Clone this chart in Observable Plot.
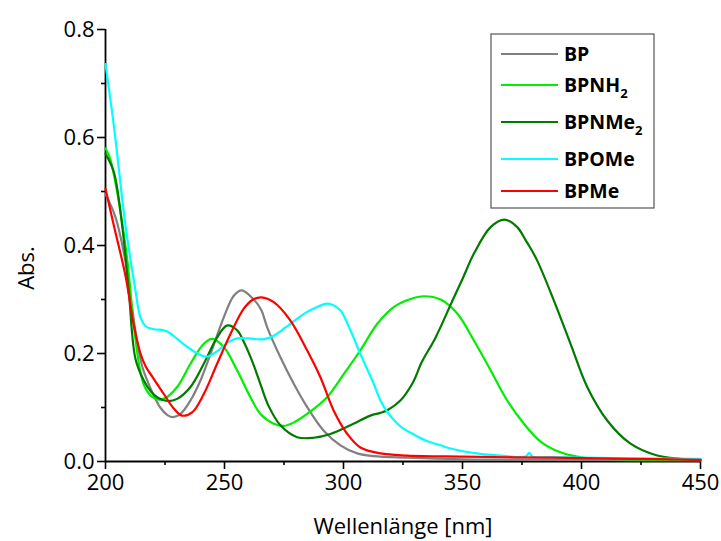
<!DOCTYPE html>
<html><head><meta charset="utf-8">
<script src="https://cdn.jsdelivr.net/npm/d3@7"></script>
<script src="https://cdn.jsdelivr.net/npm/@observablehq/plot@0.6"></script>
<style>
body{margin:0;background:#fff;}
#wrap{position:relative;width:721px;height:541px;}
#legend{position:absolute;left:0;top:0;pointer-events:none;}
</style>
</head><body>
<div id="wrap"></div>
<script>
// Wavelength (nm) / absorbance samples
const bpX = [200,204,208,211,213,215.5,218,220,223,226,228.5,231.5,235.7,239.9,244.1,249.7,253.9,257.2,262.3,265.5,267.9,273.5,279.1,284.7,291.7,298.7,305.8,312.7,326.8,350,400,450];
const bpY = [0.495,0.455,0.38,0.29,0.23,0.175,0.145,0.125,0.100,0.086,0.082,0.088,0.113,0.150,0.199,0.267,0.307,0.317,0.300,0.280,0.249,0.193,0.144,0.101,0.057,0.030,0.015,0.010,0.007,0.004,0.003,0.002];

const nh2X = [200,202,204.9,209.1,211.9,214.7,216.5,219,222,225,230.1,235.7,241.3,244.8,249.7,255.3,260.9,265.1,270.7,274.9,279,284.7,293.1,300.1,307.1,314.2,321.1,328.2,333.7,340.8,347.8,354.8,361.8,368.8,375.8,382.8,391.2,401,420,450];
const nh2Y = [0.580,0.560,0.499,0.375,0.252,0.165,0.138,0.122,0.115,0.117,0.138,0.181,0.218,0.227,0.212,0.169,0.119,0.088,0.070,0.066,0.072,0.088,0.119,0.162,0.206,0.255,0.286,0.301,0.306,0.300,0.274,0.224,0.169,0.113,0.070,0.037,0.017,0.007,0.004,0.003];

const nme2X = [200,203.5,207,209.8,212.6,216.1,219,222,225.9,230.1,235.7,241.3,246.9,251.2,255.3,258.5,262.3,265.5,268.5,273.5,280.5,287.5,294.5,302.9,311.3,315.5,318.4,323.9,329,333,338.5,346,350,354.8,361.8,367.6,373,376.5,377.9,381.4,388.4,395.4,402.4,410.8,420.6,431.8,441.6,450];
const nme2Y = [0.570,0.536,0.437,0.314,0.190,0.150,0.130,0.118,0.112,0.116,0.138,0.181,0.230,0.252,0.243,0.218,0.178,0.138,0.103,0.067,0.045,0.044,0.051,0.067,0.085,0.090,0.095,0.113,0.145,0.185,0.228,0.300,0.338,0.385,0.434,0.448,0.434,0.410,0.400,0.372,0.298,0.218,0.138,0.076,0.033,0.011,0.005,0.003];

const omeX = [200,203.5,208.4,212.3,214.7,217,220.3,224.5,227,230.1,233.5,237.1,240,242.7,245.5,248.3,252,255.3,260,265.1,268,270.7,274,277.7,281,284.7,288.5,292.4,295.5,298.7,302.9,307.1,312.7,315.5,318.4,323.9,329.5,335,340.8,345,357.6,366,376.5,378,379.5,387,400,420,450];
const omeY = [0.736,0.622,0.437,0.325,0.267,0.250,0.245,0.243,0.238,0.227,0.215,0.204,0.197,0.194,0.200,0.209,0.222,0.228,0.228,0.226,0.228,0.233,0.243,0.255,0.266,0.277,0.285,0.292,0.290,0.280,0.243,0.199,0.144,0.113,0.092,0.065,0.050,0.038,0.030,0.024,0.014,0.011,0.009,0.016,0.009,0.008,0.007,0.006,0.005];

const meX = [200,203.5,208.4,212,214.7,217,220,224.5,228.7,232.2,236.4,241.3,246.9,252.5,258.1,262,265.5,270.7,277.7,284.7,290.3,295.9,301.6,307.1,315.5,326.8,350,387,420,450];
const meY = [0.505,0.437,0.344,0.250,0.200,0.175,0.155,0.125,0.098,0.085,0.091,0.125,0.181,0.236,0.283,0.300,0.304,0.295,0.261,0.206,0.156,0.094,0.051,0.026,0.015,0.011,0.009,0.007,0.005,0.003];

const seriesNames = ["BP","BPNH2","BPNMe2","BPOMe","BPMe"];
const seriesColors = ["#808080","#00ee00","#007a00","#00ffff","#ff0000"];
const seriesX = [bpX,nh2X,nme2X,omeX,meX];
const seriesY = [bpY,nh2Y,nme2Y,omeY,meY];

const xMajor = [200,250,300,350,400,450];
const xMinor = [225,275,325,375,425];
const yMajor = [0,0.2,0.4,0.6,0.8];
const yMinor = [0.1,0.3,0.5,0.7];

const data = seriesNames.flatMap((name,i) => seriesX[i].map((x,j) => ({name, x, y: seriesY[i][j]})));

const font = "'Open Sans', sans-serif";
const chart = Plot.plot({
  width: 721, height: 541,
  marginLeft: 105, marginRight: 21, marginTop: 29, marginBottom: 80,
  style: {fontFamily: font, fontSize: "22px", color: "#000", background: "#fff"},
  x: {domain: [200,450]},
  y: {domain: [0,0.8]},
  color: {domain: seriesNames, range: seriesColors},
  marks: [
    Plot.axisX(xMajor, {tickSize: 8, tickPadding: 5, tickFormat: d => String(d), label: null, strokeWidth: 1.6}),
    Plot.axisX(xMinor, {tickSize: 4, tickFormat: () => "", label: null, strokeWidth: 1.6}),
    Plot.axisY(yMajor, {tickSize: 8, tickPadding: 3, tickFormat: d3.format(".1f"), label: null, strokeWidth: 1.6}),
    Plot.axisY(yMinor, {tickSize: 4, tickFormat: () => "", label: null, strokeWidth: 1.6}),
    Plot.ruleY([0], {stroke: "#000", strokeWidth: 1.8}),
    Plot.ruleX([200], {stroke: "#000", strokeWidth: 1.8}),
    Plot.line(data, {x: "x", y: "y", z: "name", stroke: "name", strokeWidth: 2.2, curve: "catmull-rom"})
  ]
});
const wrap = document.getElementById("wrap");
wrap.appendChild(chart);

// Overlay: axis titles and legend
const leg = d3.select(wrap).append("svg").attr("id","legend").attr("width",721).attr("height",541);
leg.append("text").attr("x",403).attr("y",534).attr("text-anchor","middle")
  .attr("font-family",font).attr("font-size",22).attr("fill","#000").text("Wellenlänge [nm]");
leg.append("text").attr("transform","translate(34,268) rotate(-90)").attr("text-anchor","middle")
  .attr("font-family",font).attr("font-size",22).attr("fill","#000").text("Abs.");

leg.append("rect").attr("x",491).attr("y",34).attr("width",163).attr("height",174)
  .attr("fill","#fff").attr("stroke","#555").attr("stroke-width",1.2);
const rowY = [54,85,122,159,191];
const labels = [["BP",""],["BPNH","2"],["BPNMe","2"],["BPOMe",""],["BPMe",""]];
seriesNames.forEach((n,i) => {
  leg.append("line").attr("x1",501).attr("x2",558).attr("y1",rowY[i]).attr("y2",rowY[i])
    .attr("stroke",seriesColors[i]).attr("stroke-width",2.2);
  const t = leg.append("text").attr("x",564).attr("y",rowY[i]+7)
    .attr("font-family",font).attr("font-weight","bold").attr("font-size",19.5).attr("fill","#000");
  t.append("tspan").text(labels[i][0]);
  if (labels[i][1]) t.append("tspan").attr("dy",6).attr("font-size",13).text(labels[i][1]);
});
</script>
</body></html>
